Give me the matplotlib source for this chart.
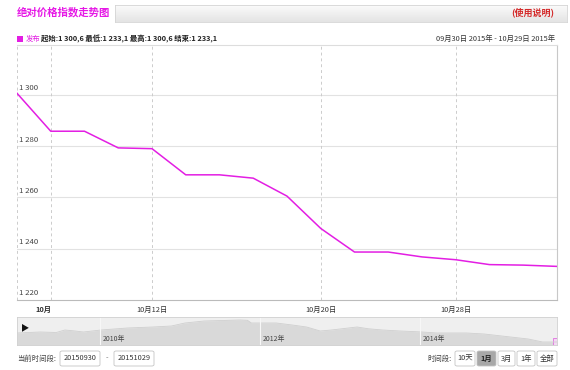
import numpy as np
import matplotlib
matplotlib.use("Agg")
import matplotlib.pyplot as plt
from matplotlib.patches import Rectangle, FancyBboxPatch
import matplotlib.transforms as mtransforms

plt.rcParams['font.family'] = ['Noto Sans CJK SC', 'DejaVu Sans']

# main series (ordinal points, 2015-09-30 .. 2015-10-29)
values = [1300.6, 1285.8, 1285.8, 1279.3, 1279.0, 1268.8, 1268.8, 1267.5,
          1260.5, 1247.9, 1238.7, 1238.7, 1236.8, 1235.7, 1233.8, 1233.6, 1233.1]
tick_pos = [1, 4, 9, 13]
tick_labels = ['10月', '10月12日', '10月20日', '10月28日']
y_ticks = [1220, 1240, 1260, 1280, 1300]
series_name = '发布'
date_range = '09月30日 2015年 - 10月29日 2015年'

# navigator long-term series
nav_years = [2008.96, 2009.25, 2009.45, 2009.56, 2009.68, 2009.79, 2010.01, 2010.34,
             2010.66, 2010.89, 2011.06, 2011.30, 2011.75, 2011.84, 2011.89, 2012.20,
             2012.40, 2012.58, 2012.75, 2012.89, 2013.21, 2013.35, 2013.53, 2013.75,
             2014.00, 2014.21, 2014.58, 2014.80, 2015.13, 2015.35, 2015.53, 2015.71]
nav_values = [1377, 1393, 1385, 1425, 1410, 1393, 1425, 1457,
              1473, 1489, 1537, 1569, 1585, 1580, 1537, 1537,
              1505, 1473, 1409, 1425, 1473, 1445, 1425, 1409,
              1395, 1377, 1377, 1361, 1313, 1281, 1233, 1233]
nav_year_ticks = [2010, 2012, 2014]

start_date = '20150930'
end_date = '20151029'
ranges = ['10天', '1月', '3月', '1年', '全部']
selected = '1月'

W, H = 570, 370
LINE = '#e31ee3'


def fx(x):
    return x / W


def fy(y):
    return 1 - y / H


def fmt(v, dec=True):
    s = f'{v:,.1f}' if dec else f'{v:,.0f}'
    return s.replace(',', ' ').replace('.', ',')


fig = plt.figure(figsize=(W / 100, H / 100), dpi=100)
fig.patch.set_facecolor('white')

# header bar with gradient
hax = fig.add_axes([fx(115), fy(22), (567 - 115) / W, 17 / H])
grad = np.linspace(0, 1, 50).reshape(-1, 1)
hax.imshow(grad, aspect='auto', cmap=matplotlib.colors.LinearSegmentedColormap.from_list(
    'g', ['#fbfbfb', '#e4e4e4']), extent=[0, 1, 0, 1])
hax.set_xticks([])
hax.set_yticks([])
for s in hax.spines.values():
    s.set_color('#d4d4d4')
    s.set_linewidth(0.6)

fig.text(fx(17), fy(12), '绝对价格指数走势图', color='#e619e6', fontsize=7.5,
         fontweight='bold', va='center', ha='left')
fig.text(fx(554), fy(12), '(使用说明)', color='#d42a2a', fontsize=6.5,
         fontweight='bold', va='center', ha='right')

# legend row
fig.patches.append(Rectangle((fx(17), fy(42)), 6 / W, 6 / H, transform=fig.transFigure,
                             facecolor=LINE, edgecolor='none'))
fig.text(fx(26), fy(39), series_name, color=LINE, fontsize=5.3, va='center', ha='left')
stats = (f'起始:{fmt(values[0])} 最低:{fmt(min(values))} '
         f'最高:{fmt(max(values))} 结束:{fmt(values[-1])}')
fig.text(fx(41), fy(39), stats, color='#222222', fontsize=5.3, fontweight='bold',
         va='center', ha='left')
fig.text(fx(555), fy(39), date_range, color='#333333', fontsize=5.3, va='center', ha='right')

# main chart
ax = fig.add_axes([fx(17), fy(300), 540 / W, 255 / H])
x = np.arange(len(values))
ax.set_xlim(0, len(values) - 1)
ax.set_ylim(1220, 1220 + 255 / 51.3 * 20)
for yt in y_ticks[1:]:
    ax.axhline(yt, color='#e2e2e2', lw=0.8, zorder=1)
for xt in [0] + tick_pos:
    ax.axvline(xt, color='#cccccc', lw=0.7, ls=(0, (3, 3)), zorder=1)
ax.plot(x, values, color=LINE, lw=1.1, zorder=3, solid_joinstyle='round')

ytrans = mtransforms.blended_transform_factory(ax.transAxes, ax.transData)
for yt in y_ticks:
    ax.text(0.003, yt + 1.0, fmt(yt, dec=False), transform=ytrans, fontsize=5.6,
            color='#444444', ha='left', va='bottom')

ax.set_yticks([])
ax.set_xticks(tick_pos)
ax.set_xticklabels(tick_labels, fontsize=5.3, color='#333333')
ax.tick_params(axis='x', length=0, pad=4)
first = ax.get_xticklabels()[0]
first.set_fontweight('bold')
first.set_transform(first.get_transform() +
                    mtransforms.ScaledTranslation(-0.07, 0, fig.dpi_scale_trans))
ax.spines['left'].set_visible(False)
ax.spines['bottom'].set_color('#bbbbbb')
ax.spines['right'].set_color('#c8c8c8')
ax.spines['top'].set_color('#dddddd')
for s in ['bottom', 'right', 'top']:
    ax.spines[s].set_linewidth(0.8)

# navigator
nax = fig.add_axes([fx(17), fy(345), 540 / W, 28 / H])
nax.set_facecolor('#efefef')
nax.set_xlim(2008.96, 2015.71)
nax.set_ylim(1185, 1185 + 28 * 16)
nax.fill_between(nav_years, nav_values, 1185, color='#d9d9d9', lw=0)
nax.plot(nav_years, nav_values, color='#cfcfcf', lw=0.6)
for yr in nav_year_ticks:
    nax.axvline(yr, color='#f7f7f7', lw=0.8)
    nax.text(yr + 0.03, 1185 + 1.5 * 16, f'{yr}年', fontsize=5, color='#444444',
             ha='left', va='bottom')
nax.set_xticks([])
nax.set_yticks([])
for s in nax.spines.values():
    s.set_color('#d0d0d0')
    s.set_linewidth(0.6)
nax.add_patch(Rectangle((2015.66, 1185), 0.05, 7 * 16, facecolor='#f4d8f4',
                        edgecolor='#e070e0', lw=0.6))
fig.text(fx(25), fy(328), '▶', fontsize=6, color='#111111', ha='center', va='center')


# bottom controls
def button(x0, x1, label, sel=False):
    fig.patches.append(FancyBboxPatch((fx(x0), fy(366)), (x1 - x0) / W, 15 / H,
                                      boxstyle='round,pad=0,rounding_size=0.004',
                                      transform=fig.transFigure,
                                      facecolor='#a8a8a8' if sel else 'white',
                                      edgecolor='#c4c4c4', lw=0.6))
    fig.text(fx((x0 + x1) / 2), fy(358.5), label, fontsize=5.3,
             color='#222222' if sel else '#333333',
             fontweight='bold' if sel else 'normal', ha='center', va='center')


fig.text(fx(17), fy(358.5), '当前时间段:', fontsize=5.3, color='#444444', ha='left', va='center')
button(60, 100, start_date)
fig.text(fx(107), fy(358.5), '-', fontsize=5.3, color='#666666', ha='center', va='center')
button(114, 154, end_date)

fig.text(fx(452), fy(358.5), '时间段:', fontsize=5.3, color='#444444', ha='right', va='center')
bx = [(455, 475), (477, 496), (498, 515), (517, 535), (537, 557)]
for (a, b), lab in zip(bx, ranges):
    button(a, b, lab, lab == selected)

fig.savefig('out.png', dpi=100)
